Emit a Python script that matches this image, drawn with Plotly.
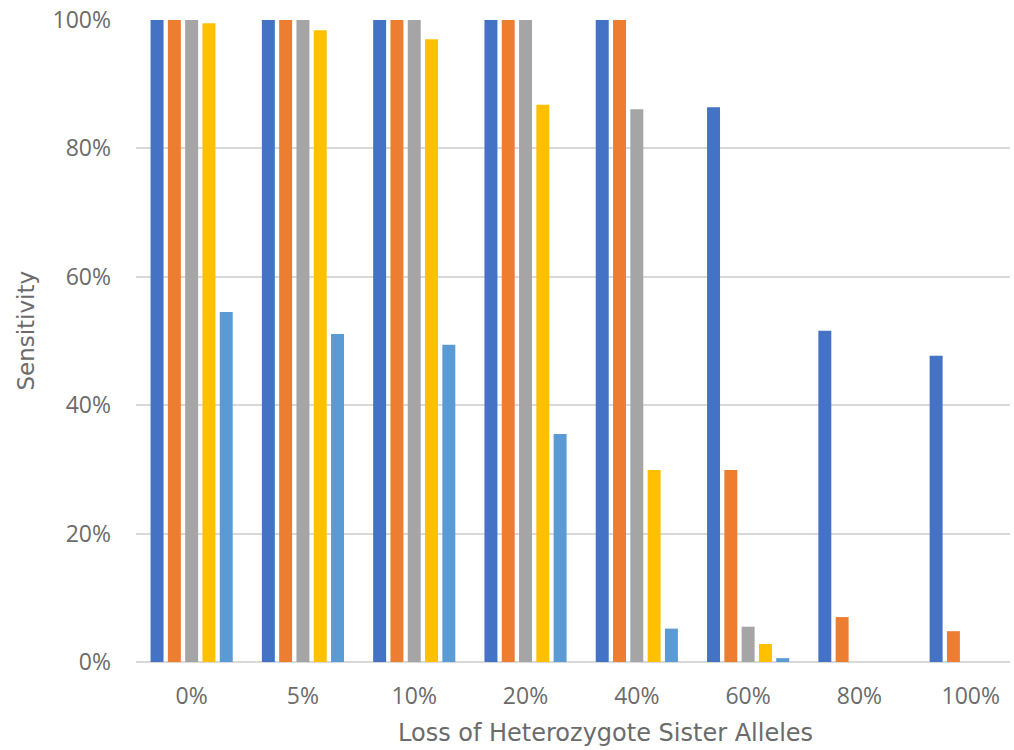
import plotly.graph_objects as go

# Sensitivity (fraction) per allele-loss level for five series
categories = ["0%", "5%", "10%", "20%", "40%", "60%", "80%", "100%"]
series_1 = [1.00, 1.00, 1.00, 1.00, 1.00, 0.864, 0.516, 0.477]
series_2 = [1.00, 1.00, 1.00, 1.00, 1.00, 0.299, 0.070, 0.048]
series_3 = [1.00, 1.00, 1.00, 1.00, 0.861, 0.055, 0.0, 0.0]
series_4 = [0.995, 0.984, 0.970, 0.868, 0.299, 0.028, 0.0, 0.0]
series_5 = [0.545, 0.511, 0.494, 0.355, 0.052, 0.006, 0.0, 0.0]

series = [
    ("Series 1", series_1, "#4472C4"),
    ("Series 2", series_2, "#ED7D31"),
    ("Series 3", series_3, "#A5A5A5"),
    ("Series 4", series_4, "#FFC000"),
    ("Series 5", series_5, "#5B9BD5"),
]

fig = go.Figure()
for name, vals, color in series:
    fig.add_trace(go.Bar(x=categories, y=vals, name=name, marker_color=color,
                         marker_line_width=0))

tick_font = "'Open Sans', 'Noto Sans', sans-serif"
title_font = "'DejaVu Sans', sans-serif"
text_color = "#6b6b6b"

fig.update_layout(
    barmode="group",
    bargap=0.223,
    bargroupgap=0.25,
    showlegend=False,
    plot_bgcolor="white",
    paper_bgcolor="white",
    width=1014,
    height=750,
    margin=dict(l=136, r=4, t=20, b=88),
    font=dict(family=tick_font, color=text_color, size=23),
    xaxis=dict(
        range=[-0.5, 7.353],
        showgrid=False,
        showline=False,
        ticks="",
        ticklabelstandoff=18,
        tickfont=dict(size=23),
    ),
    yaxis=dict(
        range=[0, 1],
        tickformat=".0%",
        dtick=0.2,
        gridcolor="#D9D9D9",
        gridwidth=2,
        zeroline=True,
        zerolinecolor="#D9D9D9",
        zerolinewidth=2,
        ticks="",
        ticklabelstandoff=24,
        tickfont=dict(size=23),
    ),
)

# Axis titles placed as annotations
fig.add_annotation(
    text="Loss of Heterozygote Sister Alleles",
    xref="paper", yref="paper", x=0.537, y=-0.111,
    xanchor="center", yanchor="middle", showarrow=False,
    font=dict(family=title_font, size=24, color=text_color),
)
fig.add_annotation(
    text="Sensitivity",
    xref="paper", yref="paper", x=-0.126, y=0.516,
    xanchor="center", yanchor="middle", textangle=-90, showarrow=False,
    font=dict(family=title_font, size=23, color=text_color),
)

fig.write_html("out.html")
